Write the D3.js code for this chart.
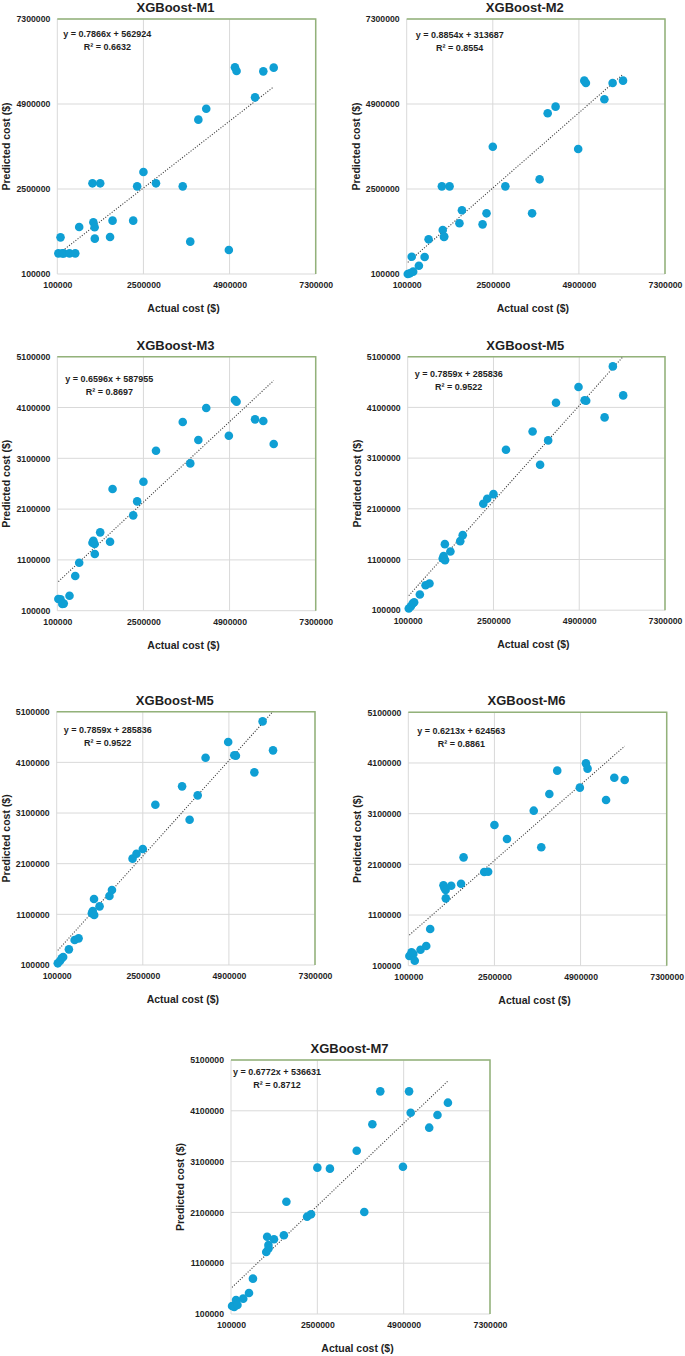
<!DOCTYPE html>
<html><head><meta charset="utf-8">
<script src="https://cdn.jsdelivr.net/npm/d3@7"></script>
<style>
html,body{margin:0;padding:0;background:#fff;}
svg{display:block;font-family:"Liberation Sans",Arial,sans-serif;}
</style></head>
<body>
<svg id="chart" width="685" height="1356"></svg>
<script>
// ---------- DATA ----------
const titles = ["XGBoost-M1","XGBoost-M2","XGBoost-M3","XGBoost-M5","XGBoost-M5","XGBoost-M6","XGBoost-M7"];
const actual = [130000,190000,240000,280000,440000,600000,710000,1080000,1105000,1140000,1145000,1295000,1570000,1640000,2215000,2325000,2500000,2850000,3595000,3805000,4030000,4250000,4880000,5050000,5095000,5610000,5840000,6130000];
const predM1 = [683000,1135000,683000,683000,683000,683000,1427000,2660000,1559000,1418000,1098000,2660000,1145000,1606000,1606000,2575000,2980000,2660000,2575000,1013000,4458000,4768000,778000,5935000,5832000,5088000,5822000,5926000];
const predM2 = [100000,119000,589000,166000,335000,580000,1079000,2575000,1342000,1145000,1160000,2575000,1531000,1898000,1502000,1813000,3695000,2575000,1813000,2773000,4637000,4825000,3630000,5559000,5493000,5032000,5493000,5559000];
const predM3 = [330000,323000,231000,240000,395000,782000,1045000,1439000,1478000,1412000,1216000,1642000,1458000,2495000,1977000,2252000,2639000,3250000,3814000,3000000,3460000,4090000,3545000,4247000,4214000,3867000,3834000,3381000];
const predM5 = [133000,179000,232000,258000,409000,593000,626000,1120000,1166000,1403000,1087000,1258000,1462000,1580000,2199000,2297000,2389000,3264000,3626000,2968000,3449000,4192000,4501000,4240000,4232000,3903000,4909000,4337000];
const predM6 = [291000,363000,330000,199000,416000,488000,824000,1686000,1640000,1593000,1429000,1679000,1718000,2238000,1949000,1955000,2876000,2600000,3159000,2436000,3488000,3949000,3613000,4093000,3988000,3370000,3810000,3764000];
const predM7 = [257000,240000,376000,277000,402000,513000,796000,1320000,1622000,1458000,1392000,1570000,1649000,2311000,2016000,2062000,2981000,2961000,3315000,2108000,3834000,4483000,3000000,4483000,4063000,3768000,4017000,4260000];
const slopes = [0.7866,0.8854,0.6596,0.7859,0.7859,0.6213,0.6772];
const intercepts = [562924,313687,587955,285836,285836,624563,536631];
const eqTexts = ["y = 0.7866x + 562924","y = 0.8854x + 313687","y = 0.6596x + 587955","y = 0.7859x + 285836","y = 0.7859x + 285836","y = 0.6213x + 624563","y = 0.6772x + 536631"];
const r2Texts = ["R² = 0.6632","R² = 0.8554","R² = 0.8697","R² = 0.9522","R² = 0.9522","R² = 0.8861","R² = 0.8712"];
const xTicks = [100000,2500000,4900000,7300000];
const yTicksLarge = [100000,2500000,4900000,7300000];
const yTicksSmall = [100000,1100000,2100000,3100000,4100000,5100000];
const xLabel = "Actual cost ($)";
const yLabel = "Predicted cost ($)";

const preds = [predM1,predM2,predM3,predM5,predM5,predM6,predM7];
const yTickSets = [yTicksLarge,yTicksLarge,yTicksSmall,yTicksSmall,yTicksSmall,yTicksSmall,yTicksSmall];

// ---------- LAYOUT ----------
const panels = [
  {l:57.3, t:19,   w:258.4, h:255, ex:50, ey:15},
  {l:406.7,t:19,   w:258.3, h:255, ex:53, ey:16},
  {l:57.3, t:356.7,w:258.4, h:254, ex:52, ey:22},
  {l:407.7,t:356.7,w:257.3, h:253.5, ex:51, ey:17},
  {l:56.7, t:711.7,w:258.3, h:253.3, ex:51, ey:18},
  {l:408.3,t:712.3,w:258.4, h:253.4, ex:53, ey:18},
  {l:231,  t:1060, w:259,   h:254, ex:46, ey:12}
];

const svg = d3.select("#chart");
const dotColor = "#0f9fd4";
const textColor = "#1f1f1f";

panels.forEach((p,i)=>{
  const yT = yTickSets[i];
  const x = d3.scaleLinear().domain([xTicks[0], xTicks[xTicks.length-1]]).range([p.l, p.l+p.w]);
  const y = d3.scaleLinear().domain([yT[0], yT[yT.length-1]]).range([p.t+p.h, p.t]);
  const g = svg.append("g");

  // gridlines
  g.selectAll(".vg").data(xTicks).join("line")
    .attr("x1",d=>x(d)).attr("x2",d=>x(d)).attr("y1",p.t).attr("y2",p.t+p.h)
    .attr("stroke","#d9d9d9").attr("stroke-width",1);
  g.selectAll(".hg").data(yT).join("line")
    .attr("y1",d=>y(d)).attr("y2",d=>y(d)).attr("x1",p.l).attr("x2",p.l+p.w)
    .attr("stroke","#d9d9d9").attr("stroke-width",1);
  // green border top & right
  g.append("path")
    .attr("d",`M${p.l},${p.t}H${p.l+p.w}V${p.t+p.h}`)
    .attr("fill","none").attr("stroke","#93b27a").attr("stroke-width",1.5);

  // axes tick labels via d3 axes
  const xAxis = d3.axisBottom(x).tickValues(xTicks).tickSize(0).tickPadding(8).tickFormat(d3.format("d"));
  const xg = g.append("g").attr("transform",`translate(0,${p.t+p.h})`).call(xAxis);
  xg.select(".domain").remove();
  xg.selectAll("text").attr("font-size","8.7px").attr("font-weight","bold").attr("fill",textColor)
    .attr("font-family","'Liberation Sans',Arial,sans-serif");
  const yAxis = d3.axisLeft(y).tickValues(yT).tickSize(0).tickPadding(7).tickFormat(d3.format("d"));
  const yg = g.append("g").attr("transform",`translate(${p.l},0)`).call(yAxis);
  yg.select(".domain").remove();
  yg.selectAll("text").attr("font-size","8.7px").attr("font-weight","bold").attr("fill",textColor)
    .attr("font-family","'Liberation Sans',Arial,sans-serif");

  // trendline
  const xs = d3.extent(actual);
  g.append("line")
    .attr("x1",x(xs[0])).attr("y1",y(slopes[i]*xs[0]+intercepts[i]))
    .attr("x2",x(xs[1])).attr("y2",y(slopes[i]*xs[1]+intercepts[i]))
    .attr("stroke","#404040").attr("stroke-width",1.1).attr("stroke-dasharray","1.1,1.6");

  // points
  g.selectAll(".pt").data(actual.map((a,k)=>[a,preds[i][k]])).join("circle")
    .attr("cx",d=>x(d[0])).attr("cy",d=>y(d[1])).attr("r",4.3).attr("fill",dotColor);

  // equation
  g.append("text").attr("x",p.l+p.ex).attr("y",p.t+p.ey+3.2).attr("text-anchor","middle")
    .attr("font-size","9px").attr("font-weight","bold").attr("fill",textColor).text(eqTexts[i]);
  g.append("text").attr("x",p.l+p.ex).attr("y",p.t+p.ey+16.2).attr("text-anchor","middle")
    .attr("font-size","9px").attr("font-weight","bold").attr("fill",textColor).text(r2Texts[i]);

  // title
  g.append("text").attr("x",p.l+p.w/2-11).attr("y",p.t-7).attr("text-anchor","middle")
    .attr("font-size","13px").attr("font-weight","bold").attr("fill",textColor).text(titles[i]);
  // axis labels
  g.append("text").attr("x",p.l+p.w/2-3).attr("y",p.t+p.h+38).attr("text-anchor","middle")
    .attr("font-size","10.5px").attr("font-weight","bold").attr("fill",textColor).text(xLabel);
  g.append("text").attr("transform",`translate(${p.l-47},${p.t+p.h/2}) rotate(-90)`).attr("text-anchor","middle")
    .attr("font-size","10.5px").attr("font-weight","bold").attr("fill",textColor).text(yLabel);
});
</script>
</body></html>
